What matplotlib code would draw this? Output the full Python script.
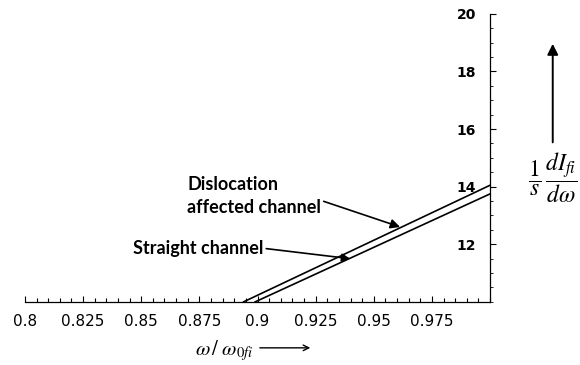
import numpy as np
import matplotlib.pyplot as plt
from matplotlib.ticker import MultipleLocator

# lines (start on the axis, end at w/w0 = 1)
omega_dis = [0.894, 1.0]
val_dis = [10.0, 14.05]
omega_str = [0.899, 1.0]
val_str = [10.0, 13.75]

xticks = [0.8, 0.825, 0.85, 0.875, 0.9, 0.925, 0.95, 0.975]
xticklabels = ['0.8', '0.825', '0.85', '0.875', '0.9', '0.925', '0.95', '0.975']
yticks = [12, 14, 16, 18, 20]

plt.rcParams['mathtext.fontset'] = 'stix'

fig = plt.figure(figsize=(5.8, 3.65), dpi=100)
ax = fig.add_axes([0.043, 0.173, 0.802, 0.789])

ax.plot(omega_dis, val_dis, color='black', lw=1.2)
ax.plot(omega_str, val_str, color='black', lw=1.2)

ax.set_xlim(0.8, 1.0)
ax.set_ylim(10, 20)

ax.spines['top'].set_visible(False)
ax.spines['right'].set_visible(False)
ax.spines['left'].set_position(('data', 1.0))
ax.spines['left'].set_linewidth(0.9)
ax.spines['bottom'].set_linewidth(0.9)

ax.set_xticks(xticks)
ax.set_xticklabels(xticklabels)
ax.xaxis.set_minor_locator(MultipleLocator(0.005))
ax.set_yticks(yticks)
ax.yaxis.set_minor_locator(MultipleLocator(0.5))

ax.tick_params(axis='x', which='major', direction='in', length=4, width=0.8, pad=9, labelsize=11)
ax.tick_params(axis='x', which='minor', direction='in', length=3, width=0.8)
ax.tick_params(axis='y', which='major', direction='in', length=4, width=0.8, pad=10, labelsize=10)
ax.tick_params(axis='y', which='minor', direction='in', length=2, width=0.6)
for lab in ax.get_yticklabels():
    lab.set_fontweight('bold')

# annotations
ax.annotate('Dislocation\naffected channel', xy=(0.9613, 12.6), xytext=(0.8697, 13.67),
            fontsize=13, fontweight='bold', family='Lato', va='center', ha='left',
            multialignment='left', linespacing=1.4,
            arrowprops=dict(arrowstyle='-|>', color='black', lw=1.2, mutation_scale=14,
                            shrinkA=0, shrinkB=0, relpos=(0.8, 0.62)))
ax.annotate('Straight channel', xy=(0.9398, 11.5), xytext=(0.8465, 11.86),
            fontsize=13, fontweight='bold', family='Lato', va='center', ha='left',
            arrowprops=dict(arrowstyle='-|>', color='black', lw=1.2, mutation_scale=12,
                            shrinkA=0, shrinkB=0, relpos=(1.0, 0.5)))

# axis labels with arrows
fig.text(0.336, 0.04, r'$\omega\,/\;\omega_{0fi}$', fontsize=15, ha='left', va='center')
ax.annotate('', xy=(0.535, 0.047), xytext=(0.448, 0.047), xycoords='figure fraction',
            textcoords='figure fraction',
            arrowprops=dict(arrowstyle='->', color='black', lw=1.0, mutation_scale=10,
                            shrinkA=0, shrinkB=0))

fig.text(0.953, 0.512, r'$\dfrac{1}{s}\,\dfrac{dI_{fi}}{d\omega}$', fontsize=17, ha='center', va='center')
ax.annotate('', xy=(0.953, 0.88), xytext=(0.953, 0.61), xycoords='figure fraction',
            textcoords='figure fraction',
            arrowprops=dict(arrowstyle='-|>', color='black', lw=1.4, mutation_scale=16,
                            shrinkA=0, shrinkB=0))

fig.savefig('out.png', dpi=100)
